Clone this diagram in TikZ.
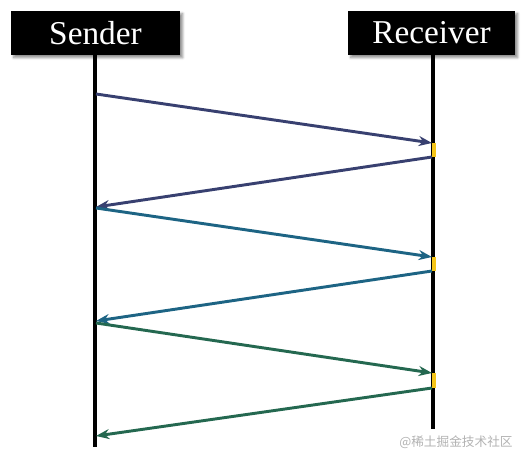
\documentclass[tikz,border=0pt]{standalone}
\usepackage{fontspec}
\setmainfont{Liberation Serif}
\newfontfamily\cjkfont{Noto Sans CJK SC}
\usetikzlibrary{arrows.meta, positioning, calc, shadows.blur}
\definecolor{msgnavy}  {RGB}{ 56,  64, 112}
\definecolor{msgteal}  {RGB}{ 29, 100, 132}
\definecolor{msggreen} {RGB}{ 36, 104,  80}
\definecolor{ackyellow}{RGB}{245, 197,  24}
\definecolor{wmgrey}   {RGB}{178, 178, 178}

\tikzset{
	party/.style={fill=black, text=white, minimum height=33pt, inner sep=0pt,
		font=\fontsize{25}{28}\selectfont,
		blur shadow={shadow xshift=2pt, shadow yshift=-2pt, shadow blur steps=6, shadow opacity=45}},
	lifeline/.style={line width=2.4pt, black},
	msg/.style={line width=2.2pt, -{Stealth[length=10pt, width=7.5pt]}},
	ackmark/.style={line width=3.2pt, ackyellow}
}

\begin{document}
\begin{tikzpicture}[x=0.75pt, y=-0.75pt]
	\useasboundingbox (0,0) rectangle (525,463);
	% the two parties
	\node[party, minimum width=126.75pt] (snd) at (95.5,33) {Sender};
	\node[party, minimum width=125.25pt] (rcv) at (431.5,33) {Receiver};
	% lifelines
	\coordinate (sndtop) at (95,55);
	\coordinate (sndbot) at (95,447);
	\coordinate (rcvtop) at (433,55);
	\coordinate (rcvbot) at (433,429);
	\draw[lifeline] (sndtop) -- (sndbot);
	\draw[lifeline] (rcvtop) -- (rcvbot);
	% end points of the messages
	\coordinate (s1) at (96,94);   \coordinate (r1) at (432,143);
	\coordinate (r2) at (432,157); \coordinate (s2) at (96,207);
	\coordinate (s3) at (96,208);  \coordinate (r3) at (432,257);
	\coordinate (r4) at (432,271); \coordinate (s4) at (96,321);
	\coordinate (s5) at (96,323);  \coordinate (r5) at (432,373);
	\coordinate (r6) at (432,388); \coordinate (s6) at (96,436);
	% processing marks on the receiver
	\draw[ackmark] ($(r1)+(2,0)$) -- ($(r2)+(2,0)$);
	\draw[ackmark] ($(r3)+(2,0)$) -- ($(r4)+(2,0)$);
	\draw[ackmark] ($(r5)+(2,0)$) -- ($(r6)+(2,0)$);
	% messages
	\draw[msg, msgnavy] (s1) -- (r1);
	\draw[msg, msgnavy] (r2) -- (s2);
	\draw[msg, msgteal] (s3) -- (r3);
	\draw[msg, msgteal] (r4) -- (s4);
	\draw[msg, msggreen] (s5) -- (r5);
	\draw[msg, msggreen] (r6) -- (s6);
	% watermark
	\node[wmgrey, font=\cjkfont\fontsize{9.5}{11}\selectfont] (wm) at (456,442) {@稀土掘金技术社区};
\end{tikzpicture}
\end{document}
